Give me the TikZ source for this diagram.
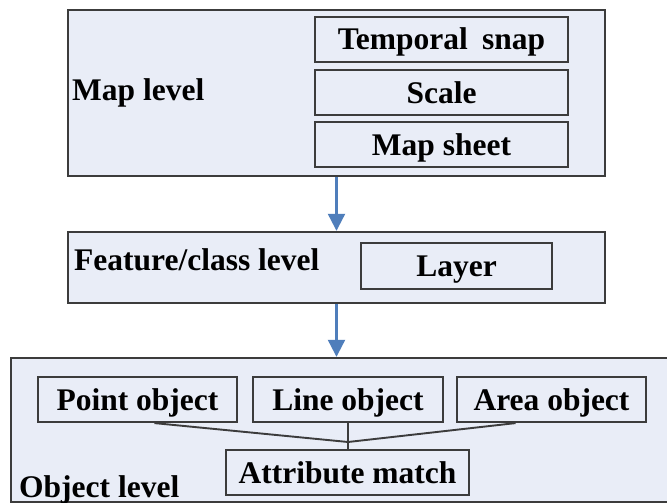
\documentclass[tikz,border=0pt]{standalone}
\usepackage{fontspec}
\setmainfont{Liberation Serif}[BoldFont={Liberation Serif Bold}]
\newfontfamily\lblfont{Liberation Serif Bold}
\usetikzlibrary{arrows.meta,calc}
\definecolor{boxfill}{RGB}{233,237,247}
\definecolor{bordergray}{RGB}{60,60,60}
\definecolor{arrowblue}{RGB}{79,126,187}
\begin{document}
\begin{tikzpicture}[x=1pt,y=-1pt,
  lbl/.style={font=\lblfont\fontsize{31.5}{33}\selectfont, text=black},
  outerbox/.style={draw=bordergray, line width=2.4pt, fill=boxfill, inner sep=0pt},
  itembox/.style={draw=bordergray, line width=2.2pt, fill=boxfill, inner sep=0pt,
     text height=21pt, text depth=0pt, lbl},
  levellabel/.style={lbl, anchor=base west, inner sep=0pt},
  flow/.style={draw=arrowblue, line width=2.2pt, -{Triangle[width=17pt,length=17pt]}, fill=arrowblue},
  link/.style={draw=bordergray, line width=1.9pt}
]
\useasboundingbox (0,0) rectangle (667,503);
\fill[white] (0,0) rectangle (667,503);
\begin{scope}
\clip (0,0) rectangle (667,503);
% Map level
\node[outerbox, minimum width=537pt, minimum height=166pt] (maplevel) at (336.5,93) {};
\node[itembox, minimum width=253pt, minimum height=45pt] (ts) at (441.5,39.5) {Temporal\hspace{0.45em}snap};
\node[itembox, minimum width=253pt, minimum height=45pt] (sc) at (441.5,92.5) {Scale};
\node[itembox, minimum width=253pt, minimum height=45pt] (ms) at (441.5,144.5) {Map sheet};
\node[levellabel] (mapt) at (72,100) {Map level};
% Feature/class level
\node[outerbox, minimum width=537pt, minimum height=71pt] (featbox) at (336.5,267.5) {};
\node[itembox, minimum width=191pt, minimum height=46pt] (layer) at (456.5,266) {Layer};
\node[levellabel] (featt) at (74,270) {Feature/class level};
% Object level
\node[outerbox, minimum width=669pt, minimum height=144pt] (objbox) at (345.5,430) {};
\node[itembox, minimum width=199pt, minimum height=45pt] (point) at (137.5,399.5) {Point object};
\node[itembox, minimum width=190pt, minimum height=45pt] (line) at (348,399.5) {Line object};
\node[itembox, minimum width=189pt, minimum height=45pt] (area) at (551.5,399.5) {Area object};
\node[itembox, minimum width=243pt, minimum height=45pt] (attr) at (347.5,472.5) {Attribute match};
\node[levellabel] (objt) at (19,497) {Object level};
% connectors
\coordinate (j) at (line.south |- 0,442);
\draw[link] ([xshift=17pt]point.south) -- (j);
\draw[link] ([xshift=-36pt]area.south) -- (j);
\draw[link] (line.south) -- (attr.north -| line.south);
% arrows
\draw[flow] (maplevel.south) -- (featbox.north);
\draw[flow] (featbox.south) -- (objbox.north -| featbox.south);
\end{scope}
\end{tikzpicture}
\end{document}
